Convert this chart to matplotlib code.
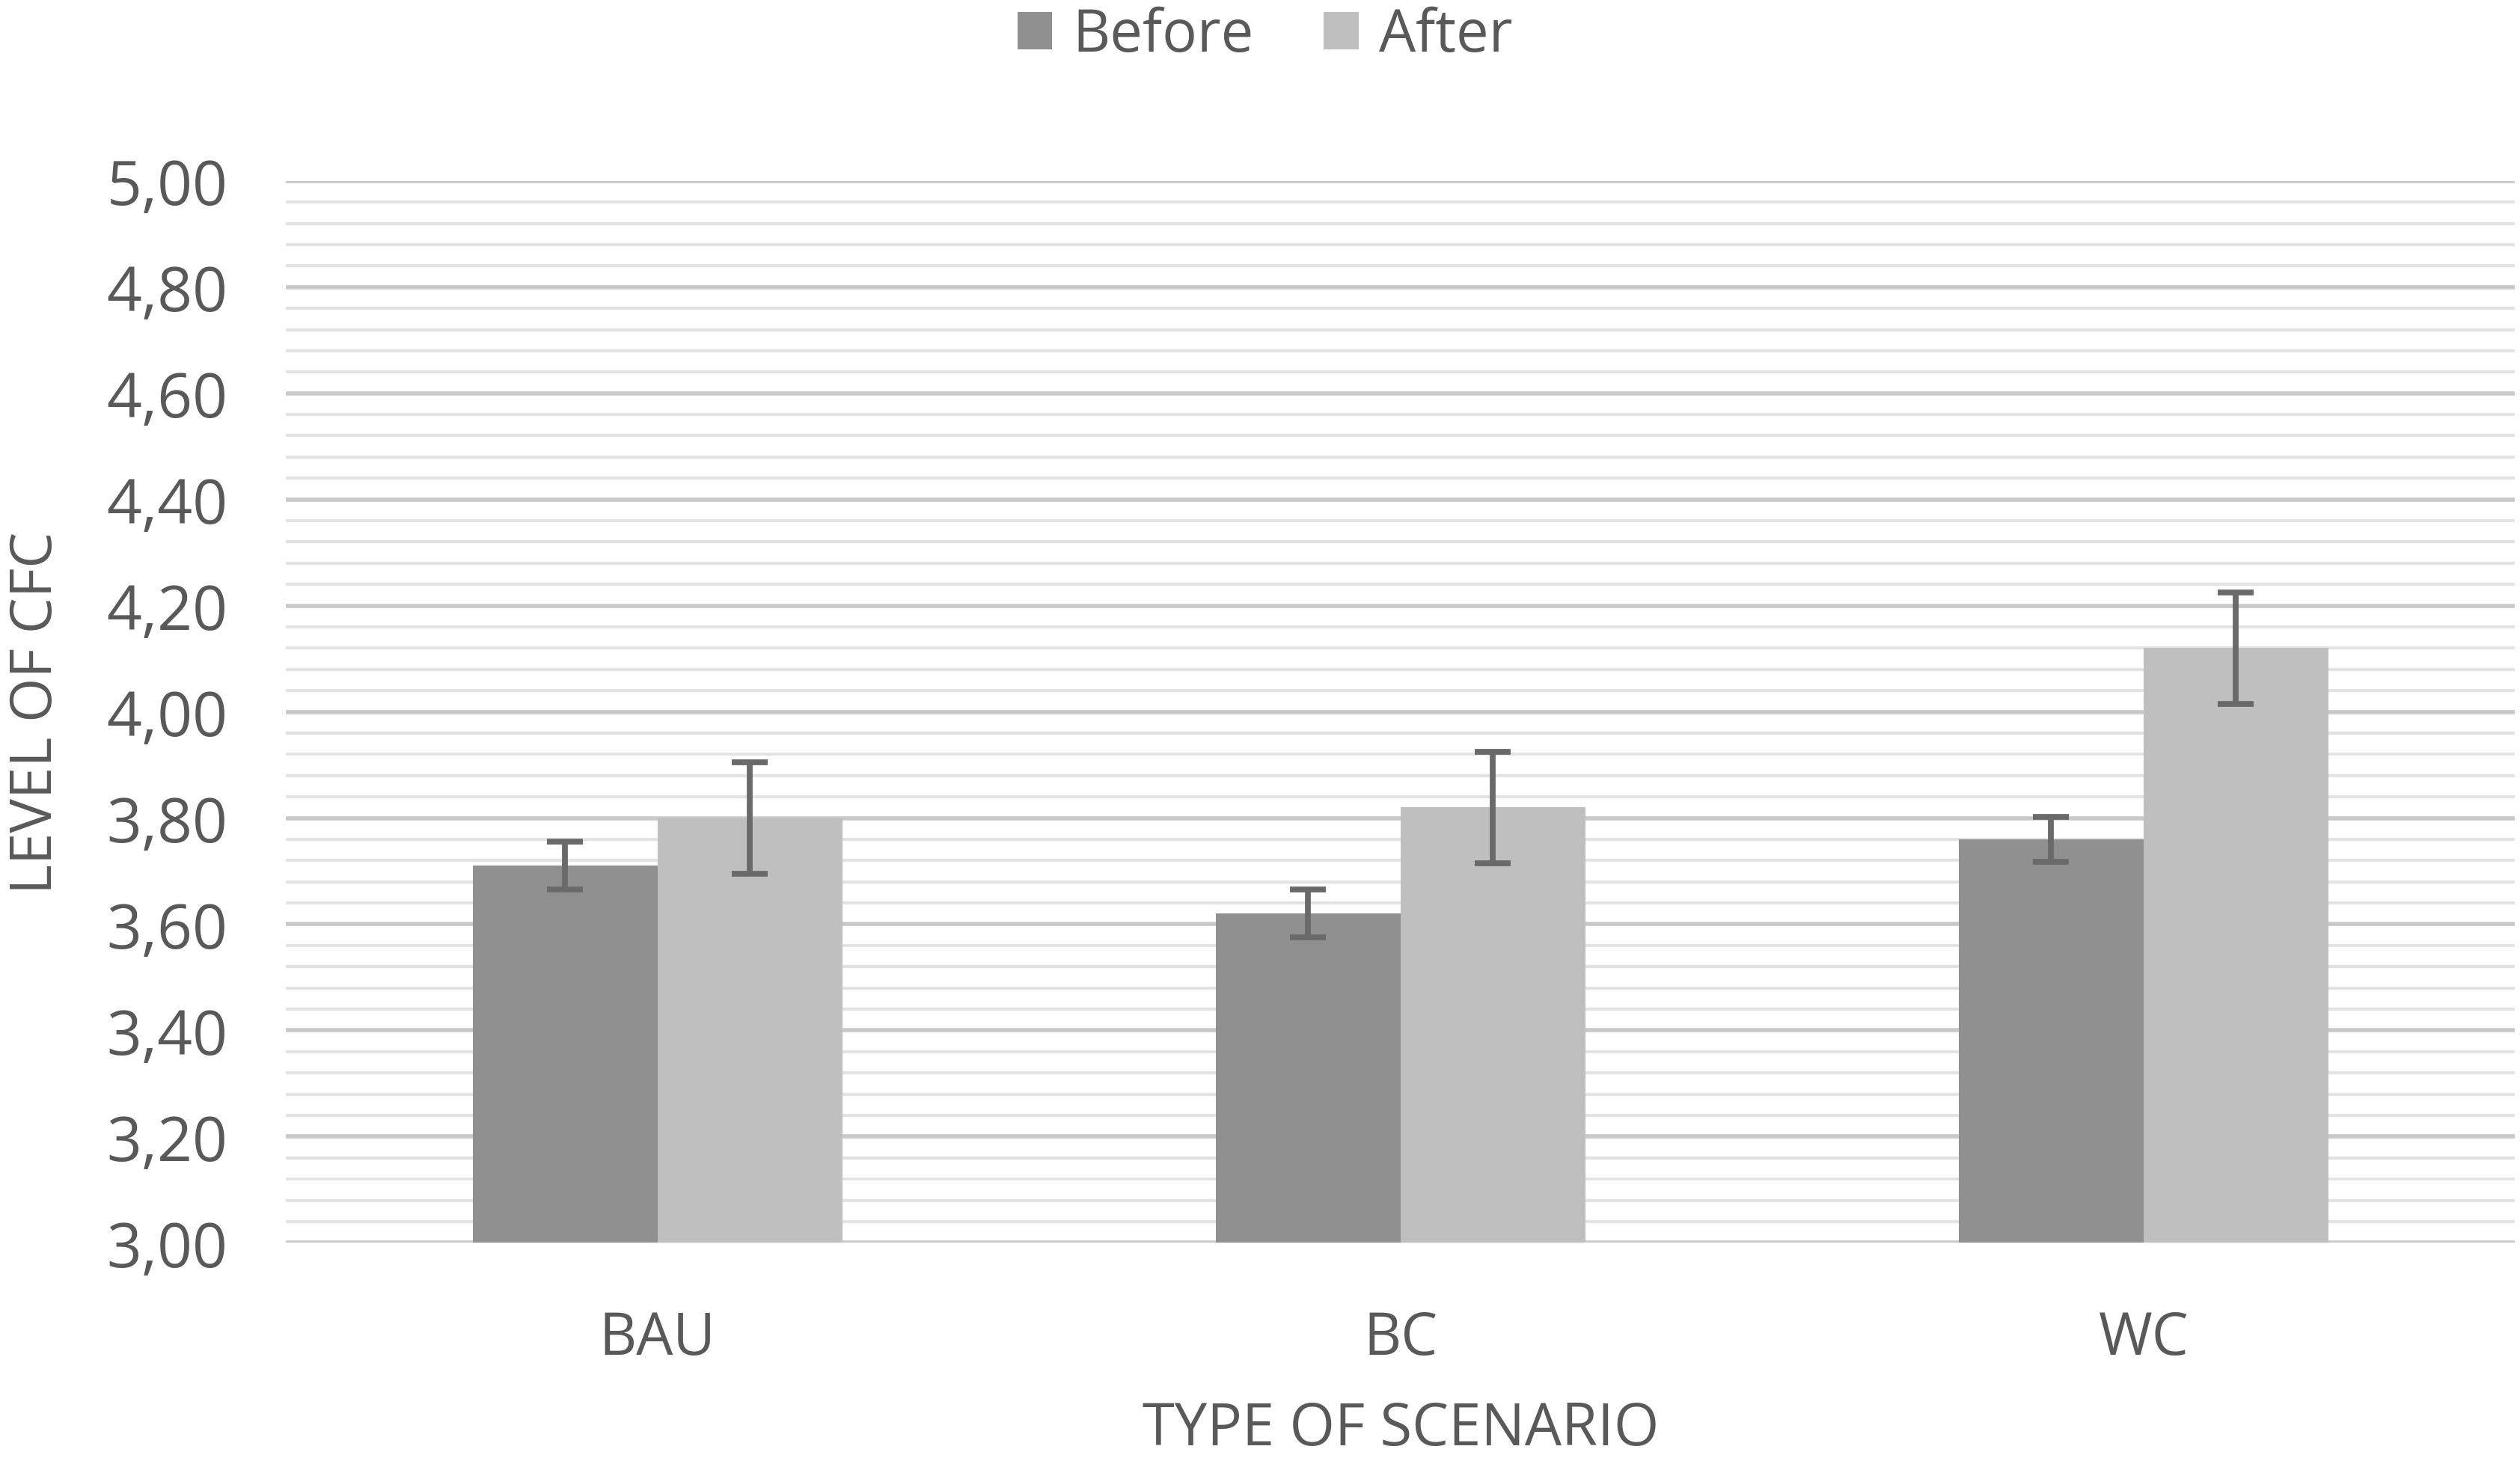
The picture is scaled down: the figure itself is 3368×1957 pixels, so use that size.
import matplotlib
matplotlib.use("Agg")
import matplotlib.pyplot as plt
import numpy as np
from matplotlib.ticker import MultipleLocator, FuncFormatter

categories = ["BAU", "BC", "WC"]
before_vals = [3.71, 3.62, 3.76]
after_vals = [3.80, 3.82, 4.12]
before_err = [0.045, 0.045, 0.042]
after_err = [0.105, 0.105, 0.105]
series_names = ["Before", "After"]

plt.rcParams['font.family'] = ['Open Sans', 'DejaVu Sans']
txt = '#595959'

fig = plt.figure(figsize=(16.84, 9.79), dpi=200)
ax = fig.add_axes([0.1135, 0.151, 0.8845, 0.725])

x = np.arange(len(categories))
w = 0.249
ekw = dict(ecolor='#6a6a6a', elinewidth=2.8, capsize=8.5, capthick=2.8)
ax.bar(x - w/2, [v - 3 for v in before_vals], w, bottom=3, color='#909090',
       yerr=before_err, error_kw=ekw, label=series_names[0], zorder=3)
ax.bar(x + w/2, [v - 3 for v in after_vals], w, bottom=3, color='#bfbfbf',
       yerr=after_err, error_kw=ekw, label=series_names[1], zorder=3)

ax.set_xlim(-0.5, 2.5)
ax.set_ylim(3.0, 5.0)
ax.yaxis.set_major_locator(MultipleLocator(0.2))
ax.yaxis.set_minor_locator(MultipleLocator(0.04))
ax.yaxis.set_major_formatter(FuncFormatter(lambda v, p: f"{v:.2f}".replace('.', ',')))
ax.grid(axis='y', which='major', color='#c9c9c9', linewidth=2.0, zorder=0)
ax.grid(axis='y', which='minor', color='#e3e3e3', linewidth=1.5, zorder=0)
ax.set_axisbelow(True)
for s in ax.spines.values():
    s.set_visible(False)
ax.tick_params(axis='both', which='both', length=0)
ax.tick_params(axis='y', labelsize=29.5, labelcolor=txt, pad=28)
ax.tick_params(axis='x', labelsize=28, labelcolor=txt, pad=32)
ax.set_xticks(x)
ax.set_xticklabels(categories)
ax.set_xlabel("TYPE OF SCENARIO", fontsize=28, color=txt, labelpad=15)
ax.set_ylabel("LEVEL OF CFC", fontsize=27.5, color=txt, labelpad=20)

leg = fig.legend(loc='center', bbox_to_anchor=(0.502, 0.975), ncol=2, frameon=False,
                 fontsize=28, handlelength=0.6, handleheight=0.6, handletextpad=0.35,
                 columnspacing=1.2, labelcolor=txt)

fig.savefig("out.png", dpi=200, facecolor='white')
